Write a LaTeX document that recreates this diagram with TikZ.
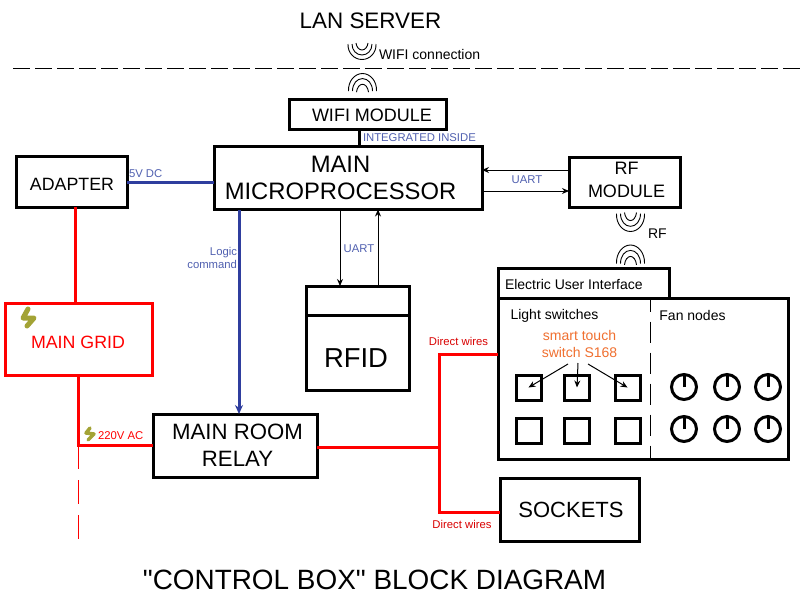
\documentclass[tikz,border=0pt]{standalone}
\usepackage{fontspec}
\setmainfont{Liberation Sans}
\newfontfamily\straightquotes{Liberation Sans}
\usetikzlibrary{arrows.meta,calc}
\definecolor{wireblue}{HTML}{2F3E9E}
\definecolor{labelblue}{HTML}{5060B0}
\definecolor{boltgreen}{HTML}{A3A335}
\definecolor{smartorange}{HTML}{F07030}
\newcommand{\fs}[1]{\fontsize{#1}{#1}\selectfont}
% nested arcs: centre x, reference y, direction and height scale
\newcommand{\wavesym}[3]{%
  \begin{scope}[shift={(#1,#2)},yscale=#3,line width=0.9pt]
    \draw (-14,-15.5) .. controls (-14.5,-7) and (-8,0) .. (0,0) .. controls (8,0) and (14.5,-7) .. (14,-15.5);
    \draw (-10,-15.5) .. controls (-10,-9) and (-5.5,-4.5) .. (0,-4.5) .. controls (5.5,-4.5) and (10,-9) .. (10,-15.5);
    \draw (-6,-16.5) .. controls (-5.5,-12.5) and (-3,-9.5) .. (0,-9.5) .. controls (3,-9.5) and (5.5,-12.5) .. (6,-16.5);
  \end{scope}}
\tikzset{
  x=1pt,y=-1pt,
  every node/.style={inner sep=0pt,outer sep=0pt,align=center},
  blockbox/.style={draw=black,line width=3pt,fill=white,minimum width=#1},
  redwire/.style={draw=red,line width=3pt},
  bluewire/.style={draw=wireblue,line width=3pt},
  thinarrow/.style={draw=black,line width=1pt,-{Stealth[length=7pt,width=6pt]}},
  smallblue/.style={text=labelblue,font=\fs{11.3}},
  smallred/.style={text=red!85!black,font=\fs{11.3}},
  plainlabel/.style={font=\fs{14}},
  touchkey/.style={draw=black,line width=3pt,minimum width=25pt,minimum height=25pt},
  bolt/.style={draw=boltgreen,line cap=round,line join=round},
}
\newcommand{\dial}[3]{%
  \node[draw=black,line width=3pt,circle,minimum size=25pt] (#1) at (#2,#3) {};
  \draw[line width=3pt] (#1.center) -- (#1.north);}
\begin{document}
\begin{tikzpicture}
\useasboundingbox (0,0) rectangle (808,603);
\fill[white] (0,0) rectangle (808,603);

% titles
\node[font=\fs{22.4}] (lan) at (370.5,21) {LAN SERVER};
\node[font=\straightquotes\fs{27.9}] (title) at (374.5,580) {"CONTROL BOX" BLOCK DIAGRAM};

% LAN boundary
\coordinate (lanL) at (13,68);
\coordinate (lanR) at (800,68);
\draw[line width=1pt,dash pattern=on 16.5pt off 5.5pt] (lanL) -- (lanR);

% blocks
\node[blockbox=157pt,minimum height=30pt] (wifi) at (368,114.5) {};
\node[font=\fs{18}] (wifitext) at (372,115.5) {WIFI MODULE};
\node[blockbox=268pt,minimum height=63pt] (main) at (348,178) {};
\node[font=\fs{23.8}] (maintext) at (340.5,178) {MAIN\\[3.5pt]MICROPROCESSOR};
\node[blockbox=111pt,minimum height=51pt] (adapter) at (71.5,181.5) {};
\node[font=\fs{17.8}] (adaptertext) at (72,184.5) {ADAPTER};
\node[blockbox=111pt,minimum height=50pt] (rf) at (624.5,182) {};
\node[font=\fs{18}] (rftext) at (626.5,180) {RF\\[4.5pt]MODULE};
\node[draw=red,line width=3pt,minimum width=147pt,minimum height=72pt] (grid) at (78.5,339) {};
\node[text=red,font=\fs{17.8}] (gridtext) at (78,342.5) {MAIN GRID};
\node[draw=black,line width=3pt,minimum width=103pt,minimum height=104pt] (rfid) at (357.5,338) {};
\node[font=\fs{27.4}] (rfidtext) at (356,358) {RFID};
\coordinate (rfidL) at (306,315);
\coordinate (rfidR) at (409,315);
\draw[line width=3pt] (rfidL) -- (rfidR);
\node[blockbox=164pt,minimum height=63pt] (relay) at (235,445.5) {};
\node[font=\fs{22.2}] (relaytext) at (237.5,445.5) {MAIN ROOM\\[5pt]RELAY};
\node[draw=black,line width=3pt,minimum width=290pt,minimum height=161pt] (ui) at (643,378.5) {};
\node[draw=black,line width=3pt,minimum width=171pt,minimum height=30pt,fill=white] (tab) at (583.5,283) {};
\node[font=\fs{14},anchor=west] (tabtext) at (505,284) {Electric User Interface};
\node[blockbox=139pt,minimum height=63pt] (sockets) at (569.5,509.5) {};
\node[font=\fs{22}] (socketstext) at (571,510) {SOCKETS};

% UI interior
\coordinate (divT) at (650,299);
\coordinate (divB) at (650,459);
\draw[line width=1pt,dash pattern=on 21.5pt off 9.5pt,dash phase=8.5pt] (divT) -- (divB);
\node[plainlabel] (light) at (554.5,316) {Light switches};
\node[plainlabel] (fan) at (692.5,315) {Fan nodes};
\node[font=\fs{14},text=smartorange] (smart) at (579.5,344) {smart touch\\[3pt]switch S168};

\node[touchkey] (k1) at (528.5,387.5) {};
\node[touchkey] (k2) at (577,387.5) {};
\node[touchkey] (k3) at (627.5,387.5) {};
\node[touchkey] (k4) at (528.5,430.5) {};
\node[touchkey] (k5) at (577,430.5) {};
\node[touchkey] (k6) at (627.5,430.5) {};

\coordinate (s1) at (568,364);
\coordinate (s2) at (578,363);
\coordinate (s3) at (588,364);
\draw[thinarrow] (s1) -- (k1.center);
\draw[thinarrow] (s2) -- (k2.center);
\draw[thinarrow] (s3) -- (k3.center);

\dial{d1}{684}{387}
\dial{d2}{727}{387}
\dial{d3}{768}{387}
\dial{d4}{684}{429}
\dial{d5}{727}{429}
\dial{d6}{768}{429}

% connectors
\draw[line width=3pt] (wifi.south -| 359,0) -- (main.north -| 359,0);
\node[smallblue,anchor=west] (integ) at (363,138) {INTEGRATED INSIDE};

\draw[bluewire] (adapter.east |- 0,182) -- (main.west |- 0,182);
\node[smallblue,anchor=west] (dc) at (129,174) {5V DC};

\draw[bluewire,-{Stealth[length=9pt,width=8pt]}] (main.south -| 239,0) -- (relay.north -| 239,0);
\node[smallblue,anchor=east,align=right] (logic) at (237,258) {Logic\\[1pt]command};

\draw[thinarrow] (rf.west |- 0,170) -- (main.east |- 0,170);
\draw[thinarrow] (main.east |- 0,191) -- (rf.west |- 0,191);
\node[smallblue] (u1) at (527,180) {UART};

\draw[thinarrow] (main.south -| 340,0) -- (rfid.north -| 340,0);
\draw[thinarrow] (rfid.north -| 378,0) -- (main.south -| 378,0);
\node[smallblue] (u2) at (359,249) {UART};

\draw[redwire] (adapter.south -| 75,0) -- (grid.north -| 75,0);
\coordinate (acCorner) at (78,445);
\draw[redwire,line join=miter] (grid.south -| 78,0) -- (acCorner) -- (relay.west |- acCorner);
\coordinate (acEnd) at (78,539);
\draw[draw=red,line width=1pt,dash pattern=on 24pt off 11pt] (acCorner) -- (acEnd);
\node[text=red,font=\fs{11.3},anchor=west] (ac) at (98,436) {220V AC};

\coordinate (busMid) at (439,447);
\coordinate (busTop) at (439,354);
\coordinate (busBot) at (439,512);
\draw[redwire] (relay.east |- busMid) -- (busMid);
\draw[redwire] (ui.west |- busTop) -- (busTop) -- (busBot) -- (sockets.west |- busBot);
\node[smallred] (dw1) at (458.5,341) {Direct wires};
\node[smallred] (dw2) at (462,524) {Direct wires};

% wireless symbols
\wavesym{362}{59.5}{1}
\wavesym{362.5}{73.5}{-1.13}
\wavesym{630.5}{231.5}{1.15}
\wavesym{630.5}{245}{-1.2}
\node[plainlabel,anchor=west] (wific) at (379,54) {WIFI connection};
\node[plainlabel,anchor=west] (rflabel) at (648,234) {RF};

% bolts
\draw[bolt,line width=5pt] (28,309) -- (23,318) -- (34,318) -- (27,326);
\draw[bolt,line width=3.5pt] (90,428) -- (86,433) -- (94,434) -- (88,440);
\end{tikzpicture}
\end{document}
